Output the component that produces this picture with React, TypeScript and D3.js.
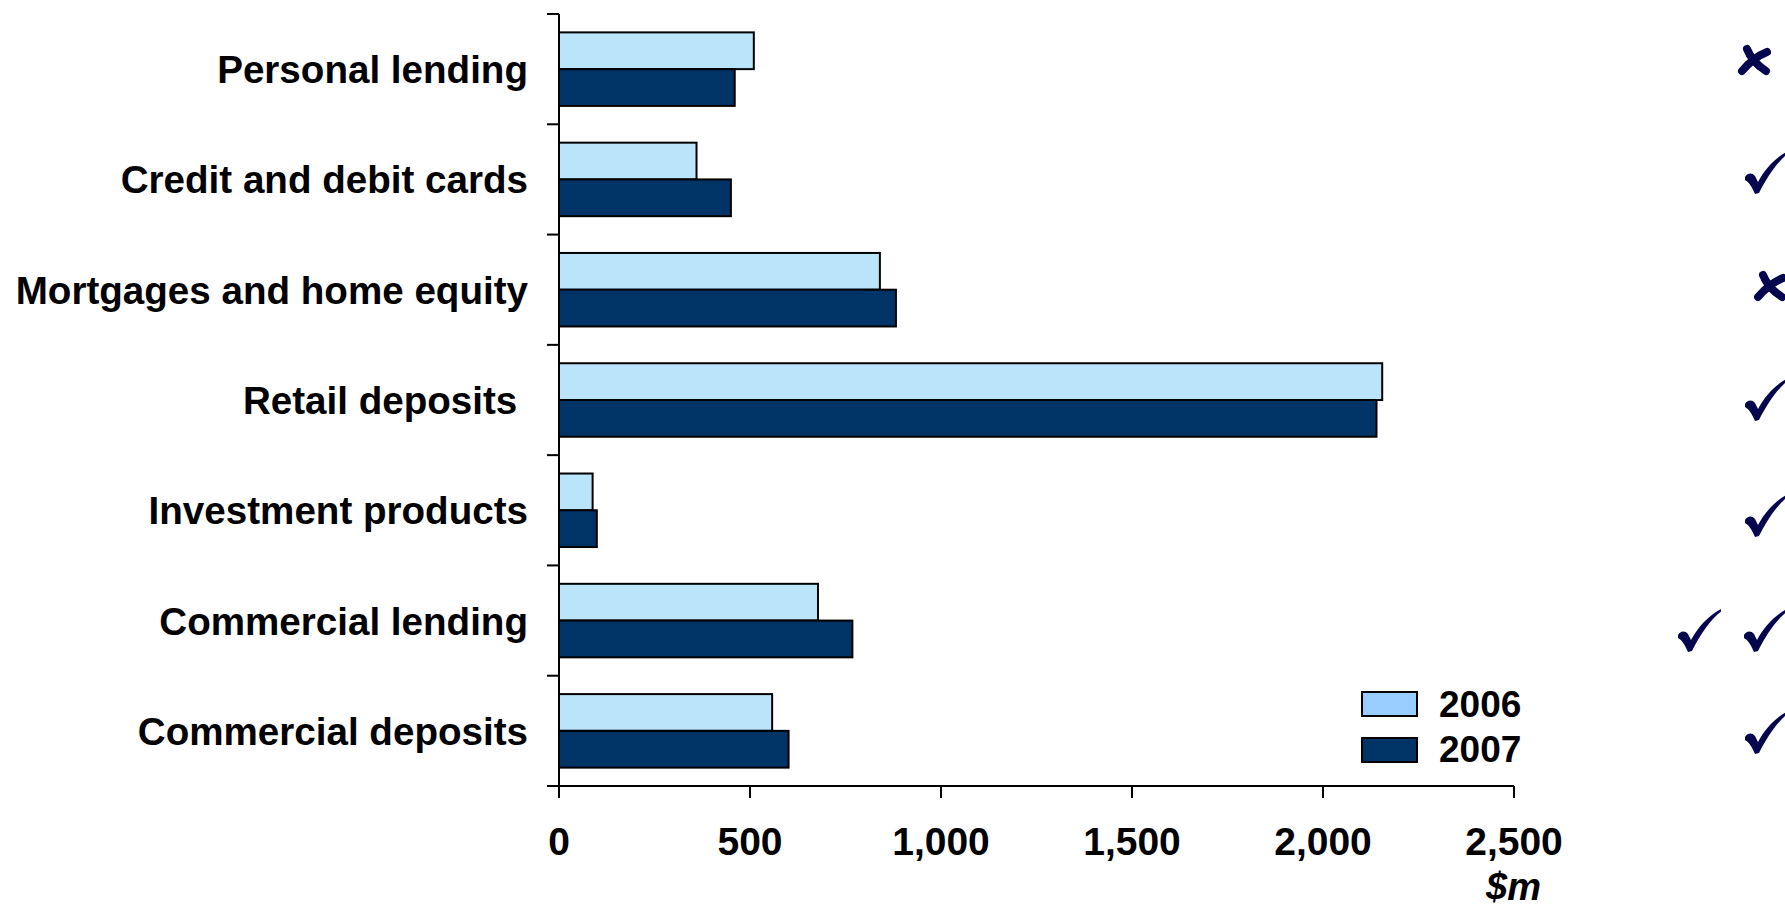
import React from "react";
import * as d3 from "d3";

const categories = [
  "Personal lending",
  "Credit and debit cards",
  "Mortgages and home equity",
  "Retail deposits ",
  "Investment products",
  "Commercial lending",
  "Commercial deposits",
];
const seriesNames = ["2006", "2007"];
const values2006 = [510, 360, 840, 2155, 88, 678, 558];
const values2007 = [460, 450, 882, 2140, 99, 768, 601];
const xTicks = [0, 500, 1000, 1500, 2000, 2500];
const marks = ["x", "v", "x", "v", "v", "vv", "v"];
const unitLabel = "$m";

// layout for the annotation glyphs (left, top) in px
const markLeft = [1738, 1745, 1754, 1745, 1745, 1678, 1745];
const markTop = [45, 151, 271, 378, 494, 609, 711];

const W = 1785;
const H = 909;
const plotLeft = 559;
const plotRight = 1514;
const plotTop = 14;
const plotBottom = 786;
const FONT = "'Liberation Sans', Arial, Helvetica, sans-serif";
const colors = ["#B9E4F9", "#003366"];
const legendColors = ["#99CCFF", "#003366"];
const markColor = "#06064F";

const CHECK_PATH =
  "M 0,26 C 2,22 7,21 10,25 L 13,31 C 20,18 30,7 43,0 L 43,2.5 C 32,11 22,26 14,42 L 10,43 C 7,36 4,31 0,29 Z";

function Check({ x, y }: { x: number; y: number }) {
  return <path d={CHECK_PATH} transform={`translate(${x},${y})`} fill={markColor} />;
}
function Cross({ x, y }: { x: number; y: number }) {
  return (
    <g transform={`translate(${x},${y})`} fill="none" stroke={markColor} strokeWidth={8} strokeLinecap="round">
      <path d="M 9,4 Q 14,17 28,26" />
      <path d="M 4,26 Q 16,12 29,7" />
    </g>
  );
}

export default function App() {
  const x = d3.scaleLinear().domain([0, 2500]).range([plotLeft, plotRight]);
  const y = d3.scaleBand<string>().domain(categories).range([plotTop, plotBottom]).paddingInner(0).paddingOuter(0);
  const yInner = d3
    .scaleBand<string>()
    .domain(seriesNames)
    .range([0, y.bandwidth()])
    .paddingInner(0)
    .paddingOuter(0.5);
  const series = [values2006, values2007];
  const boundaries = d3.range(categories.length + 1).map((i) => plotTop + i * y.step());

  return (
    <svg
      width={W}
      height={H}
      viewBox={`0 0 ${W} ${H}`}
      style={{ position: "absolute", left: 0, top: 0, display: "block", background: "#fff" }}
      fontFamily={FONT}
    >
      {/* bars */}
      {categories.map((c, i) => (
        <g key={c}>
          {seriesNames.map((s, j) => (
            <rect
              key={s}
              x={x(0)}
              y={(y(c) as number) + (yInner(s) as number)}
              width={x(series[j][i]) - x(0)}
              height={yInner.bandwidth()}
              fill={colors[j]}
              stroke="#000"
              strokeWidth={2}
            />
          ))}
        </g>
      ))}

      {/* y axis */}
      <line x1={plotLeft} x2={plotLeft} y1={plotTop} y2={plotBottom + 12} stroke="#000" strokeWidth={2} />
      {boundaries.map((b, i) => (
        <line key={i} x1={plotLeft - 12} x2={plotLeft} y1={b} y2={b} stroke="#000" strokeWidth={2} />
      ))}
      {/* x axis */}
      <line x1={plotLeft - 12} x2={plotRight} y1={plotBottom} y2={plotBottom} stroke="#000" strokeWidth={2} />
      {xTicks.map((t) => (
        <g key={t}>
          <line x1={x(t)} x2={x(t)} y1={plotBottom} y2={plotBottom + 12} stroke="#000" strokeWidth={2} />
          <text x={x(t)} y={855} textAnchor="middle" fontSize={39} fontWeight="bold" fill="#000">
            {d3.format(",")(t)}
          </text>
        </g>
      ))}
      <text x={1486} y={900} textAnchor="start" fontSize={38} fontWeight="bold" fontStyle="italic" fill="#000">
        {unitLabel}
      </text>

      {/* category labels */}
      {categories.map((c) => (
        <text
          key={c}
          x={528}
          y={(y(c) as number) + y.bandwidth() / 2 + 14}
          textAnchor="end"
          fontSize={38.6}
          fontWeight="bold"
          fill="#000"
          style={{ whiteSpace: "pre" }}
          xmlSpace="preserve"
        >
          {c}
        </text>
      ))}

      {/* legend */}
      {seriesNames.map((s, j) => (
        <g key={s}>
          <rect x={1362} y={692 + j * 46} width={55} height={24} fill={legendColors[j]} stroke="#000" strokeWidth={2} />
          <text x={1439} y={717 + j * 45} fontSize={37} fontWeight="bold" fill="#000">
            {s}
          </text>
        </g>
      ))}

      {/* annotation marks */}
      {marks.map((m, i) => {
        if (m === "x") return <Cross key={i} x={markLeft[i]} y={markTop[i]} />;
        if (m === "vv")
          return (
            <g key={i}>
              <Check x={markLeft[i]} y={markTop[i]} />
              <Check x={markLeft[i] + 66} y={markTop[i]} />
            </g>
          );
        return <Check key={i} x={markLeft[i]} y={markTop[i]} />;
      })}
    </svg>
  );
}
